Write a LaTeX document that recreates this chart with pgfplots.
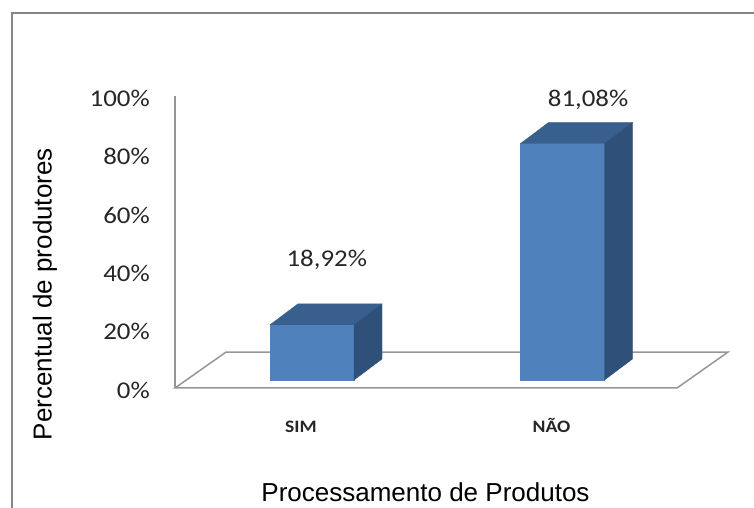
\documentclass[border=0pt]{standalone}
\usepackage{pgfplots}
\pgfplotsset{compat=1.18}
\usepackage{pgfplotstable}
\usepackage{fontspec}
\setmainfont{Liberation Sans}
\newfontfamily\calib[FakeStretch=1.12]{Carlito}

\definecolor{barfront}{RGB}{79,129,189}
\definecolor{bartop}{RGB}{57,95,142}
\definecolor{barside}{RGB}{47,80,121}
\definecolor{floorline}{RGB}{150,150,150}
\definecolor{frameline}{RGB}{134,134,134}

% share of producers per answer, with the offset of each value label
\pgfplotstableread{
pos val labdx labdy
0 18.92 0.103 22.9
1 81.08 0.146 15.3
}\bars

% oblique bar geometry (x in category units, y in percent)
\def\bshift{0.0439}% front face set back from the floor edge
\def\brise{2.74}
\def\bhalf{0.1677}% half width of a bar
\def\ddx{0.1118}% depth of a bar, horizontal part
\def\ddy{7.2}% depth of a bar, vertical part

\begin{document}
\begin{tikzpicture}
\useasboundingbox (0,0) rectangle (754pt,508pt);
\draw[frameline, line width=2pt] (11.5pt,494.8pt) rectangle (790pt,-30pt);
\begin{axis}[
  anchor=south west, at={(175pt,120pt)},
  x=250.5pt, y=2.917pt,
  xmin=-0.503, xmax=1.72, ymin=0, ymax=100,
  clip=false,
  axis lines*=left,
  x axis line style={draw=none},
  y axis line style={floorline, line width=1.5pt},
  major tick length=0pt,
  xtick={0,1}, xticklabels={SIM,NÃO},
  ytick={0,20,40,60,80,100},
  yticklabels={0\%,20\%,40\%,60\%,80\%,100\%},
  xticklabel style={font=\calib\bfseries\fontsize{17.5}{20}\selectfont, text=black!85, anchor=base, inner sep=0pt, yshift=-45pt},
  yticklabel style={font=\calib\fontsize{24}{26}\selectfont, text=black!85, anchor=east, inner sep=0pt, xshift=-25pt, yshift=-2pt},
  xlabel={Processamento de Produtos},
  ylabel={Percentual de produtores},
  every axis x label/.style={at={(axis cs:0.497,-38.8)}, anchor=base, inner sep=0pt, text depth=0pt, font=\fontsize{26}{28}\selectfont},
  every axis y label/.style={at={(axis cs:-0.9952,32.16)}, anchor=base, inner sep=0pt, rotate=90, font=\fontsize{26}{28}\selectfont},
]
% floor of the 3-D plot area
\addplot[floorline, line width=1.5pt] coordinates {(-0.503,0) (1.501,0) (1.705,12.34) (-0.299,12.34)} -- cycle;

\pgfplotsinvokeforeach{0,1}{
  \pgfplotstablegetelem{#1}{pos}\of\bars \let\bx\pgfplotsretval
  \pgfplotstablegetelem{#1}{val}\of\bars \let\bv\pgfplotsretval
  \pgfplotstablegetelem{#1}{labdx}\of\bars \let\ldx\pgfplotsretval
  \pgfplotstablegetelem{#1}{labdy}\of\bars \let\ldy\pgfplotsretval
  \pgfmathsetmacro\xa{\bx+\bshift-\bhalf}
  \pgfmathsetmacro\xb{\bx+\bshift+\bhalf}
  \pgfmathsetmacro\xc{\xa+\ddx}
  \pgfmathsetmacro\xd{\xb+\ddx}
  \pgfmathsetmacro\ya{\brise}
  \pgfmathsetmacro\yb{\brise+\bv}
  \pgfmathsetmacro\yc{\ya+\ddy}
  \pgfmathsetmacro\yd{\yb+\ddy}
  % front, top and side faces
  \addplot[draw=barfront, line width=0.3pt, fill=barfront] coordinates {(\xa,\ya) (\xb,\ya) (\xb,\yb) (\xa,\yb)} -- cycle;
  \addplot[draw=bartop, line width=0.3pt, fill=bartop] coordinates {(\xa,\yb) (\xb,\yb) (\xd,\yd) (\xc,\yd)} -- cycle;
  \addplot[draw=barside, line width=0.3pt, fill=barside] coordinates {(\xb,\ya) (\xd,\yc) (\xd,\yd) (\xb,\yb)} -- cycle;
  % value label
  \pgfmathsetmacro\lx{\bx+\ldx}
  \pgfmathsetmacro\ly{\bv+\ldy}
  \edef\temp{\noexpand\node[anchor=base, text=black!85, font=\noexpand\calib\noexpand\fontsize{24}{26}\noexpand\selectfont] at (axis cs:\lx,\ly) {\noexpand\pgfmathprintnumber[fixed,fixed zerofill,precision=2,use comma,assume math mode=true]{\bv}\noexpand\%};}
  \temp
}
\end{axis}
\end{tikzpicture}
\end{document}
